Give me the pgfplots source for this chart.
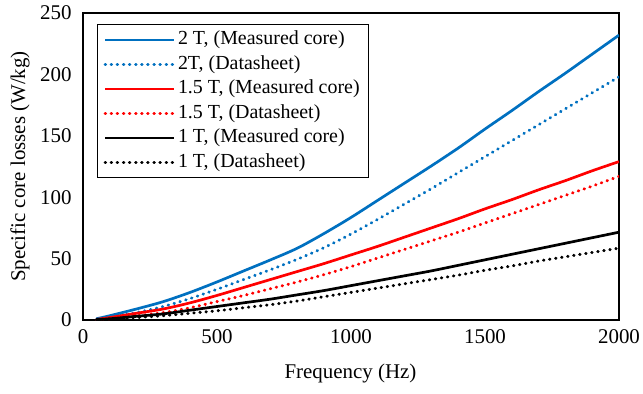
\documentclass[border=0pt]{standalone}
\usepackage{pgfplots}
\pgfplotsset{compat=1.18}
\usepackage{fontspec}
\setmainfont{Liberation Serif}
\definecolor{xlblue}{RGB}{0,112,192}
\definecolor{xlred}{RGB}{255,0,0}
\begin{document}
\begin{tikzpicture}
\path[use as bounding box] (-83bp,-74bp) rectangle (560bp,320bp);
\begin{axis}[
  at={(0,0)}, anchor=south west,
  scale only axis, width=536bp, height=307bp,
  xmin=0, xmax=2000, ymin=0, ymax=250,
  xtick={0,500,...,2000}, ytick={0,50,...,250},
  major tick length=0pt,
  axis line style={line width=1.4bp},
  /pgf/number format/assume math mode=true,
  /pgf/number format/1000 sep={},
  tick label style={font=\fontsize{21}{24}\selectfont},
  xticklabel style={yshift=-6bp},
  yticklabel style={xshift=-8bp},
  label style={font=\fontsize{21}{24}\selectfont},
  xlabel={Frequency (Hz)},
  ylabel={Specific core losses (W/kg)},
  xlabel style={at={(axis description cs:0.499,0)}, anchor=north, yshift=-40bp},
  ylabel style={at={(axis description cs:-0.1175,0.5)}, anchor=center},
  legend cell align=left,
  legend image code/.code={\draw[#1] (0bp,0bp) -- (69bp,0bp);},
  legend style={at={(rel axis cs:0.026,0.964)}, anchor=north west,
    draw=black, line width=1.2bp, font=\fontsize{20}{22}\selectfont,
    row sep=0bp, inner xsep=6bp, inner ysep=3bp,
    nodes={inner sep=2.5bp, text height=14.5bp, text depth=5bp}},
  every axis plot/.append style={smooth, tension=0.5},
]
\addplot[xlblue, line width=2.7bp] coordinates {
(50,1) (100,3.5) (200,9) (300,15) (400,22.5) (500,31) (600,40) (700,49) (800,58.5) (900,70.5) (1000,83.5) (1100,97.5) (1200,111.5) (1300,125.5) (1400,140) (1500,155.5) (1600,170.5) (1700,186) (1800,201) (1900,216.5) (2000,232)};
\addlegendentry{2 T, (Measured core)}
\addplot[xlblue, line width=3bp, line cap=round, dash pattern=on 0.5bp off 5.6bp] coordinates {
(50,0.5) (100,2) (200,6) (300,11) (400,17.5) (500,25) (600,33) (700,41) (800,49.5) (900,59) (1000,70) (1100,82) (1200,94.5) (1300,107) (1400,120) (1500,133) (1600,146) (1700,159) (1800,172) (1900,185) (2000,198)};
\addlegendentry{2T, (Datasheet)}
\addplot[xlred, line width=2.7bp] coordinates {
(50,0.5) (100,2) (200,5.5) (300,9) (400,14) (500,20) (600,26.5) (700,33) (800,39.5) (900,46) (1000,53) (1100,60) (1200,67.5) (1300,75) (1400,82.5) (1500,90.5) (1600,98) (1700,106) (1800,113.5) (1900,121.5) (2000,129)};
\addlegendentry{1.5 T, (Measured core)}
\addplot[xlred, line width=3bp, line cap=round, dash pattern=on 0.5bp off 5.6bp] coordinates {
(50,0.3) (100,1) (200,3.5) (300,6) (400,10) (500,15) (600,20) (700,25.5) (800,31) (900,37) (1000,43.5) (1100,50.5) (1200,57.5) (1300,64.5) (1400,71.5) (1500,79) (1600,86.5) (1700,94) (1800,101.5) (1900,109) (2000,117)};
\addlegendentry{1.5 T, (Datasheet)}
\addplot[black, line width=2.7bp] coordinates {
(50,0.3) (100,1) (200,3) (300,5) (400,8) (500,11) (600,14) (700,17) (800,20.5) (900,24) (1000,28) (1100,32) (1200,36) (1300,40) (1400,44.5) (1500,49) (1600,53.5) (1700,58) (1800,62.5) (1900,67) (2000,71.5)};
\addlegendentry{1 T, (Measured core)}
\addplot[black, line width=3bp, line cap=round, dash pattern=on 0.5bp off 5.6bp] coordinates {
(50,0.2) (100,0.8) (200,2) (300,3.5) (400,5.5) (500,7.5) (600,10) (700,12.5) (800,15.5) (900,19) (1000,22.5) (1100,26) (1200,29.5) (1300,33) (1400,36.5) (1500,40.5) (1600,44) (1700,48) (1800,51.5) (1900,55) (2000,58.5)};
\addlegendentry{1 T, (Datasheet)}
\end{axis}
\end{tikzpicture}
\end{document}
